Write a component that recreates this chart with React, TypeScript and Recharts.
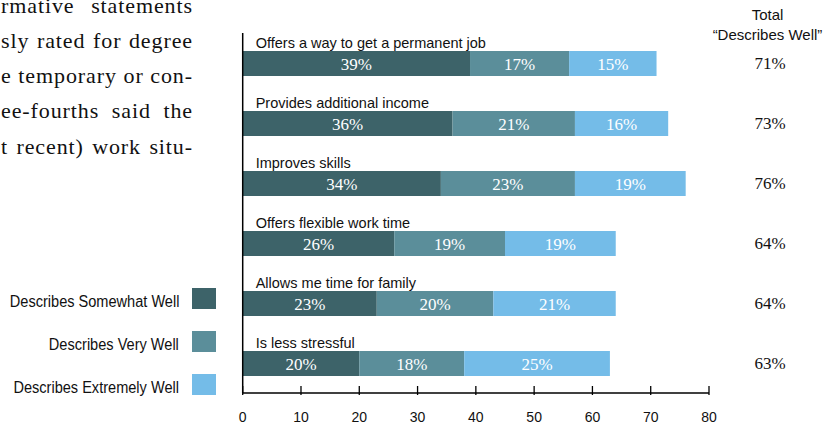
import React from 'react';
import { BarChart, Bar, XAxis, YAxis, ReferenceLine, LabelList } from 'recharts';

// survey items, top to bottom
const items = [
  'Offers a way to get a permanent job',
  'Provides additional income',
  'Improves skills',
  'Offers flexible work time',
  'Allows me time for family',
  'Is less stressful',
];
const somewhatWell = [39, 36, 34, 26, 23, 20];
const veryWell = [17, 21, 23, 19, 20, 18];
const extremelyWell = [15, 16, 19, 19, 21, 25];
const totalWell = [71, 73, 76, 64, 64, 63];
const xTicks = [0, 10, 20, 30, 40, 50, 60, 70, 80];

const legendItems = [
  { name: 'Describes Somewhat Well', color: '#3d6369' },
  { name: 'Describes Very Well', color: '#5b8e9a' },
  { name: 'Describes Extremely Well', color: '#74bce8' },
];

const paragraphLines = [
  'rmative statements',
  'sly rated for degree',
  'e temporary or con-',
  'ee-fourths said the',
  't recent) work situ-',
];

const data = items.map((name, i) => ({
  name,
  somewhat: somewhatWell[i],
  very: veryWell[i],
  extremely: extremelyWell[i],
  total: totalWell[i],
}));

const SANS = "'Liberation Sans', Arial, sans-serif";
const SERIF = "'Liberation Serif', 'Times New Roman', serif";

const AxisTick = (props: any) => {
  const { x, y, payload } = props;
  return (
    <g>
      <line x1={x} y1={y} x2={x} y2={y - 9} stroke="#000" strokeWidth={1.3} />
      <text x={x} y={y + 22} textAnchor="middle" dominantBaseline="central" fontFamily={SANS} fontSize={14} fill="#111">
        {payload.value}
      </text>
    </g>
  );
};

const ItemLabel = (props: any) => {
  const { x, y, value } = props;
  return (
    <text x={x + 13} y={y - 8.5} dominantBaseline="central" fontFamily={SANS} fontSize={14.5} fill="#111">
      {value}
    </text>
  );
};

const TotalLabel = (props: any) => {
  const { y, height, value } = props;
  return (
    <text x={770} y={y + height / 2} textAnchor="middle" dominantBaseline="central" fontFamily={SERIF} fontSize={17} fill="#111">
      {value}%
    </text>
  );
};

const pct = (v: any) => `${v}%`;

export default function App() {
  return (
    <div style={{ position: 'absolute', left: 0, top: 0, width: 835, height: 426, overflow: 'hidden', background: '#fff' }}>
      {/* cut-off body text from the page, justified */}
      {paragraphLines.map((line, i) => (
        <div
          key={i}
          style={{
            position: 'absolute',
            left: 1,
            width: 192,
            top: -5.5 + 35.3 * i,
            whiteSpace: 'nowrap',
            textAlign: 'justify',
            textAlignLast: 'justify',
            fontFamily: SERIF,
            fontSize: 22,
            letterSpacing: 0.9,
            lineHeight: '22px',
            color: '#111',
          }}
        >
          {line}
        </div>
      ))}

      {/* legend */}
      {legendItems.map((item, i) => (
        <React.Fragment key={item.name}>
          <div
            style={{
              position: 'absolute',
              right: 835 - 179,
              top: 292 + 43 * i,
              height: 20,
              lineHeight: '20px',
              whiteSpace: 'nowrap',
              fontFamily: SANS,
              fontSize: 16,
              color: '#111',
              transform: 'scaleX(0.91)',
              transformOrigin: 'right center',
            }}
          >
            {item.name}
          </div>
          <div style={{ position: 'absolute', left: 192, top: 288 + 43 * i, width: 24, height: 21, background: item.color }} />
        </React.Fragment>
      ))}

      {/* header for totals column */}
      <div
        style={{
          position: 'absolute',
          left: 700,
          top: 5,
          width: 135,
          textAlign: 'center',
          fontFamily: SANS,
          fontSize: 15,
          lineHeight: '20px',
          color: '#111',
        }}
      >
        Total
        <br />
        “Describes Well”
      </div>

      <div style={{ position: 'absolute', left: 0, top: 0 }}>
        <BarChart
          width={835}
          height={426}
          data={data}
          layout="vertical"
          margin={{ top: 33, right: 126, bottom: 3, left: 242.7 }}
        >
          <XAxis
            type="number"
            domain={[0, 80]}
            ticks={xTicks}
            interval={0}
            tickSize={0}
            tickLine={false}
            axisLine={{ stroke: '#000', strokeWidth: 1.3 }}
            tick={<AxisTick />}
            height={30}
          />
          <YAxis type="category" dataKey="name" hide />
          <Bar dataKey="somewhat" stackId="a" fill="#3d6369" barSize={25} isAnimationActive={false}>
            <LabelList dataKey="somewhat" position="center" formatter={pct} fill="#fff" fontFamily={SERIF} fontSize={17} />
            <LabelList dataKey="name" content={<ItemLabel />} />
          </Bar>
          <Bar dataKey="very" stackId="a" fill="#5b8e9a" barSize={25} isAnimationActive={false}>
            <LabelList dataKey="very" position="center" formatter={pct} fill="#fff" fontFamily={SERIF} fontSize={17} />
          </Bar>
          <Bar dataKey="extremely" stackId="a" fill="#74bce8" barSize={25} isAnimationActive={false}>
            <LabelList dataKey="extremely" position="center" formatter={pct} fill="#fff" fontFamily={SERIF} fontSize={17} />
            <LabelList dataKey="total" content={<TotalLabel />} />
          </Bar>
          <ReferenceLine x={0} stroke="#000" strokeWidth={1.5} />
        </BarChart>
      </div>
    </div>
  );
}
